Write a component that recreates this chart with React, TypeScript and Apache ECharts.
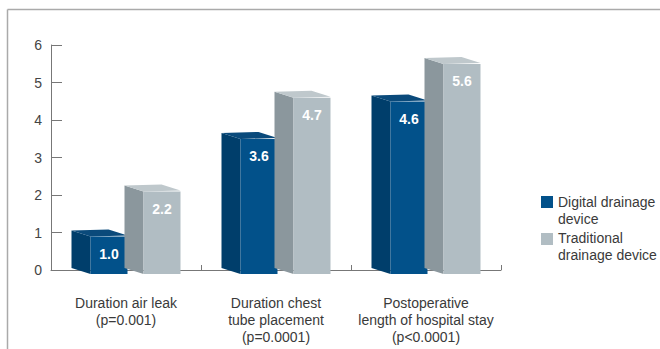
import React, { useEffect, useRef } from "react";
import * as echarts from "echarts";

const categories = [
  "Duration air leak\n(p=0.001)",
  "Duration chest\ntube placement\n(p=0.0001)",
  "Postoperative\nlength of hospital stay\n(p<0.0001)",
];
const digitalValues = [1.0, 3.6, 4.6];
const traditionalValues = [2.2, 4.7, 5.6];
const seriesNames = ["Digital drainage device", "Traditional drainage device"];
const legendLabels = ["Digital drainage\ndevice", "Traditional\ndrainage device"];
const yTicks = [0, 1, 2, 3, 4, 5, 6];

const FONT = "'Liberation Sans', Arial, sans-serif";

const palettes = [
  { front: "#02518a", side: "#003e6b", top: "#0a4a7b" },
  { front: "#b1bdc3", side: "#8b979d", top: "#bfc8cc" },
];

function makeRender(seriesIdx: number) {
  const offsets = [-54.5, -1.5];
  return (params: any, api: any) => {
    const cat = api.value(0);
    const v = api.value(1);
    const base = api.coord([cat, 0]);
    const top = api.coord([cat, v]);
    const cx = base[0];
    const depthX = 19;
    const w = 37;
    const bl = cx + offsets[seriesIdx];
    const fl = bl + depthX;
    const fr = fl + w;
    const br = bl + w;
    const yTB = top[1] - 2;
    const yTF = top[1] + 4;
    const yBB = base[1] - 2;
    const yBF = base[1] + 4;
    const p = palettes[seriesIdx];
    return {
      type: "group",
      children: [
        {
          type: "polygon",
          shape: { points: [[bl, yTB], [fl, yTF], [fl, yBF], [bl, yBB]] },
          style: { fill: p.side },
        },
        {
          type: "polygon",
          shape: { points: [[bl, yTB], [br, yTB - 1], [fr, yTF - 1], [fl, yTF]] },
          style: { fill: p.top },
        },
        {
          type: "rect",
          shape: { x: fl, y: yTF, width: w, height: yBF - yTF },
          style: { fill: p.front },
        },
        {
          type: "text",
          x: fl + w / 2,
          y: yTF + 17,
          style: {
            text: Number(v).toFixed(1),
            fill: "#ffffff",
            font: `bold 14px ${FONT}`,
            align: "center",
            verticalAlign: "middle",
          },
        },
      ],
    };
  };
}

export default function App() {
  const ref = useRef<HTMLDivElement>(null);
  useEffect(() => {
    if (!ref.current) return;
    const chart = echarts.init(ref.current, undefined, { renderer: "svg" });
    const option: any = {
      animation: false,
      backgroundColor: "#ffffff",
      grid: { left: 51, right: 159, top: 45, bottom: 79, containLabel: false },
      xAxis: {
        type: "category",
        data: categories,
        boundaryGap: true,
        axisLine: { show: true, lineStyle: { color: "#777", width: 1 } },
        axisTick: { show: true, inside: true, length: 5, lineStyle: { color: "#777" } },
        axisLabel: {
          color: "#3a3a3a",
          fontFamily: FONT,
          fontSize: 14,
          lineHeight: 17,
          margin: 24,
          interval: 0,
        },
        splitLine: { show: false },
      },
      yAxis: {
        type: "value",
        min: yTicks[0],
        max: yTicks[yTicks.length - 1],
        interval: 1,
        axisLine: { show: true, lineStyle: { color: "#777", width: 1 } },
        axisTick: { show: true, inside: true, length: 11, lineStyle: { color: "#777" } },
        axisLabel: { color: "#444", fontFamily: FONT, fontSize: 14, margin: 9 },
        splitLine: { show: false },
      },
      series: [
        {
          name: seriesNames[0],
          type: "custom",
          renderItem: makeRender(0),
          encode: { x: 0, y: 1 },
          data: digitalValues.map((v, i) => [i, v]),
        },
        {
          name: seriesNames[1],
          type: "custom",
          renderItem: makeRender(1),
          encode: { x: 0, y: 1 },
          data: traditionalValues.map((v, i) => [i, v]),
        },
      ],
      graphic: [
        {
          type: "line",
          shape: { x1: 7.5, y1: 9.5, x2: 660, y2: 9.5 },
          style: { stroke: "#aaaaaa", lineWidth: 1.5 },
        },
        {
          type: "line",
          shape: { x1: 7.5, y1: 9.5, x2: 7.5, y2: 349 },
          style: { stroke: "#aaaaaa", lineWidth: 1.5 },
        },
        {
          type: "rect",
          shape: { x: 541, y: 196, width: 12, height: 12 },
          style: { fill: palettes[0].front },
        },
        {
          type: "text",
          x: 558,
          y: 193.5,
          style: {
            text: legendLabels[0],
            fill: "#3a3a3a",
            font: `14px ${FONT}`,
            lineHeight: 17,
            verticalAlign: "top",
          },
        },
        {
          type: "rect",
          shape: { x: 541, y: 233, width: 12, height: 12 },
          style: { fill: palettes[1].front },
        },
        {
          type: "text",
          x: 558,
          y: 229.5,
          style: {
            text: legendLabels[1],
            fill: "#3a3a3a",
            font: `14px ${FONT}`,
            lineHeight: 17,
            verticalAlign: "top",
          },
        },
      ],
    };
    chart.setOption(option);
    return () => chart.dispose();
  }, []);
  return (
    <div
      ref={ref}
      style={{ position: "fixed", left: 0, top: 0, width: 660, height: 349 }}
    />
  );
}
